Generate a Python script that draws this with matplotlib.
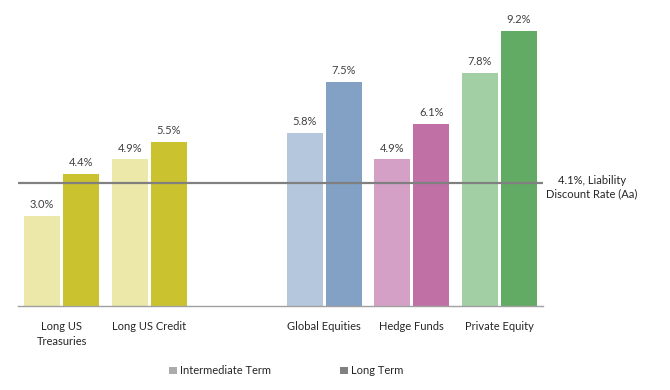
import matplotlib
matplotlib.use("Agg")
import matplotlib.pyplot as plt
from matplotlib.patches import Patch
import numpy as np

categories = ["Long US\nTreasuries", "Long US Credit", "", "Global Equities", "Hedge Funds", "Private Equity"]
intermediate = [3.0, 4.9, None, 5.8, 4.9, 7.8]
long_term = [4.4, 5.5, None, 7.5, 6.1, 9.2]
light_colors = ["#ece8a9", "#ece8a9", "#ffffff", "#b4c7dd", "#d4a0c5", "#a2cfa3"]
dark_colors = ["#cbc22f", "#cbc22f", "#ffffff", "#82a1c4", "#c070a5", "#62ab64"]
liability_rate = 4.1
liability_label = "4.1%, Liability\nDiscount Rate (Aa)"
series_names = ["Intermediate Term", "Long Term"]

plt.rcParams['font.family'] = ['Lato', 'DejaVu Sans']
FS = 8.0

fig = plt.figure(figsize=(6.7, 3.9), dpi=100)
ax = fig.add_axes([18/670, 84/390, 525/670, 299/390])

x = np.arange(len(categories))
w = 0.41
off = 0.223
for i in range(len(categories)):
    if intermediate[i] is not None:
        ax.bar(x[i] - off, intermediate[i], width=w, color=light_colors[i], zorder=2)
        ax.text(x[i] - off, intermediate[i] + 0.2, f"{intermediate[i]:.1f}%", ha='center', va='bottom',
                fontsize=FS, color='#404040')
    if long_term[i] is not None:
        ax.bar(x[i] + off, long_term[i], width=w, color=dark_colors[i], zorder=2)
        ax.text(x[i] + off, long_term[i] + 0.2, f"{long_term[i]:.1f}%", ha='center', va='bottom',
                fontsize=FS, color='#404040')

ax.axhline(liability_rate, color='#808080', linewidth=1.6, zorder=3)
ax.text(1.093, liability_rate - 0.12, liability_label, transform=ax.get_yaxis_transform(),
        ha='center', va='center', fontsize=FS, color='#262626', linespacing=1.3)

ax.set_xlim(-0.5, len(categories) - 0.5)
ax.set_ylim(0, 10)
ax.set_xticks(x)
ax.set_xticklabels(categories, fontsize=FS, color='#262626', linespacing=1.4)
ax.tick_params(axis='x', length=0, pad=11)
ax.set_yticks([])
for s in ['top', 'right', 'left']:
    ax.spines[s].set_visible(False)
ax.spines['bottom'].set_color('#a0a0a0')
ax.spines['bottom'].set_linewidth(1.0)

handles = [Patch(facecolor='#ababab', edgecolor='none'), Patch(facecolor='#808080', edgecolor='none')]
fig.legend(handles, series_names, loc='center', bbox_to_anchor=(0.427, 0.049), ncol=2, frameon=False,
           handlelength=0.7, handleheight=0.7, handletextpad=0.3, columnspacing=6.2,
           prop={'size': FS}, labelcolor='#262626')

fig.savefig("out.png", dpi=100)
